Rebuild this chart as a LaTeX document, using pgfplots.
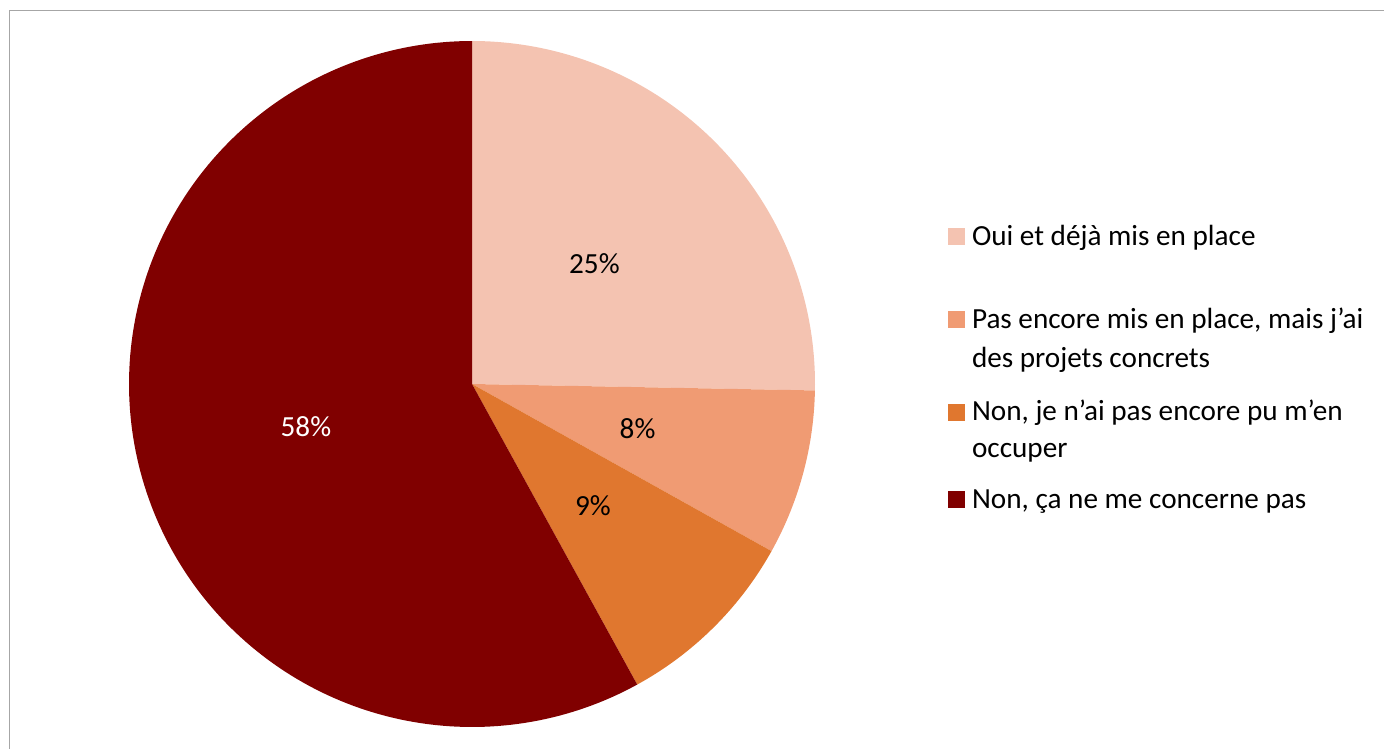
\documentclass[border=0pt]{standalone}
\usepackage{pgfplots}
\pgfplotsset{compat=1.18}
\usepackage{fontspec}
\setmainfont{Carlito}

\definecolor{sliceA}{HTML}{F4C3B1}
\definecolor{sliceB}{HTML}{F09B73}
\definecolor{sliceC}{HTML}{E0772F}
\definecolor{sliceD}{HTML}{800000}
\definecolor{framegray}{HTML}{A6A6A6}

% shares in percent, clockwise from 12 o'clock
\def\va{25.3}
\def\vb{7.8}
\def\vc{8.9}
\def\vd{58.0}

% row heights of the legend (bp), to get the uneven spacing of the original
\newcommand\lh[1]{\rule{0pt}{#1bp}}

\begin{document}
\begin{tikzpicture}
\pgfkeys{/pgf/number format/assume math mode=true}
\path[use as bounding box] (0,0) rectangle (692bp,374.5bp);
\draw[framegray, line width=0.75bp] (4.75bp,0) |- (692bp,369.25bp);

\pgfmathsetmacro\aA{90}
\pgfmathsetmacro\aB{\aA-3.6*\va}
\pgfmathsetmacro\aC{\aB-3.6*\vb}
\pgfmathsetmacro\aD{\aC-3.6*\vc}
\pgfmathsetmacro\aE{\aD-3.6*\vd}

\begin{axis}[
  at={(236bp,182.5bp)}, anchor=center,
  width=343bp, height=343bp, scale only axis,
  xmin=-1, xmax=1, ymin=-1, ymax=1,
  axis lines=none, clip=false,
  legend image code/.code={\fill[#1] (0bp,0bp) rectangle (8.5bp,8.5bp);},
  legend style={draw=none, fill=none, inner sep=0pt, outer sep=0pt,
    row sep=0pt, column sep=3.5bp,
    cells={anchor=base west, text depth=0pt},
    nodes={inner sep=0pt}, font=\fontsize{14.6bp}{18.25bp}\selectfont,
    at={(1.1939,0.7399)}, anchor=north west},
]
\addplot[fill=sliceA, draw=none, domain=\aB:\aA, samples=90] ({cos(x)},{sin(x)}) -- (axis cs:0,0) -- cycle;
\addlegendentry{\lh{12.8}Oui et déjà mis en place}
\addplot[fill=sliceB, draw=none, domain=\aC:\aB, samples=40] ({cos(x)},{sin(x)}) -- (axis cs:0,0) -- cycle;
\addlegendentry{\lh{40}Pas encore mis en place, mais j’ai}
\addlegendimage{empty legend}
\addlegendentry{\lh{18}des projets concrets}
\addplot[fill=sliceC, draw=none, domain=\aD:\aC, samples=40] ({cos(x)},{sin(x)}) -- (axis cs:0,0) -- cycle;
\addlegendentry{\lh{25.5}Non, je n’ai pas encore pu m’en}
\addlegendimage{empty legend}
\addlegendentry{\lh{16.7}occuper}
\addplot[fill=sliceD, draw=none, domain=\aE:\aD, samples=180] ({cos(x)},{sin(x)}) -- (axis cs:0,0) -- cycle;
\addlegendentry{\lh{24}Non, ça ne me concerne pas}

\pgfmathsetmacro\mA{(\aA+\aB)/2}
\pgfmathsetmacro\mB{(\aB+\aC)/2}
\pgfmathsetmacro\mC{(\aC+\aD)/2}
\pgfmathsetmacro\mD{(\aD+\aE)/2}
\begin{scope}[every node/.style={font=\fontsize{14.6bp}{18.25bp}\selectfont, inner sep=0pt}]
\node at (axis cs:{0.5*cos(\mA)},{0.5*sin(\mA)}) {\pgfmathprintnumber[precision=0]{\va}\%};
\node at (axis cs:{0.5*cos(\mB)},{0.5*sin(\mB)}) {\pgfmathprintnumber[precision=0]{\vb}\%};
\node at (axis cs:{0.5*cos(\mC)},{0.5*sin(\mC)}) {\pgfmathprintnumber[precision=0]{\vc}\%};
\node[text=white] at (axis cs:{0.5*cos(\mD)},{0.5*sin(\mD)}) {\pgfmathprintnumber[precision=0]{\vd}\%};
\end{scope}
\end{axis}
\end{tikzpicture}
\end{document}
